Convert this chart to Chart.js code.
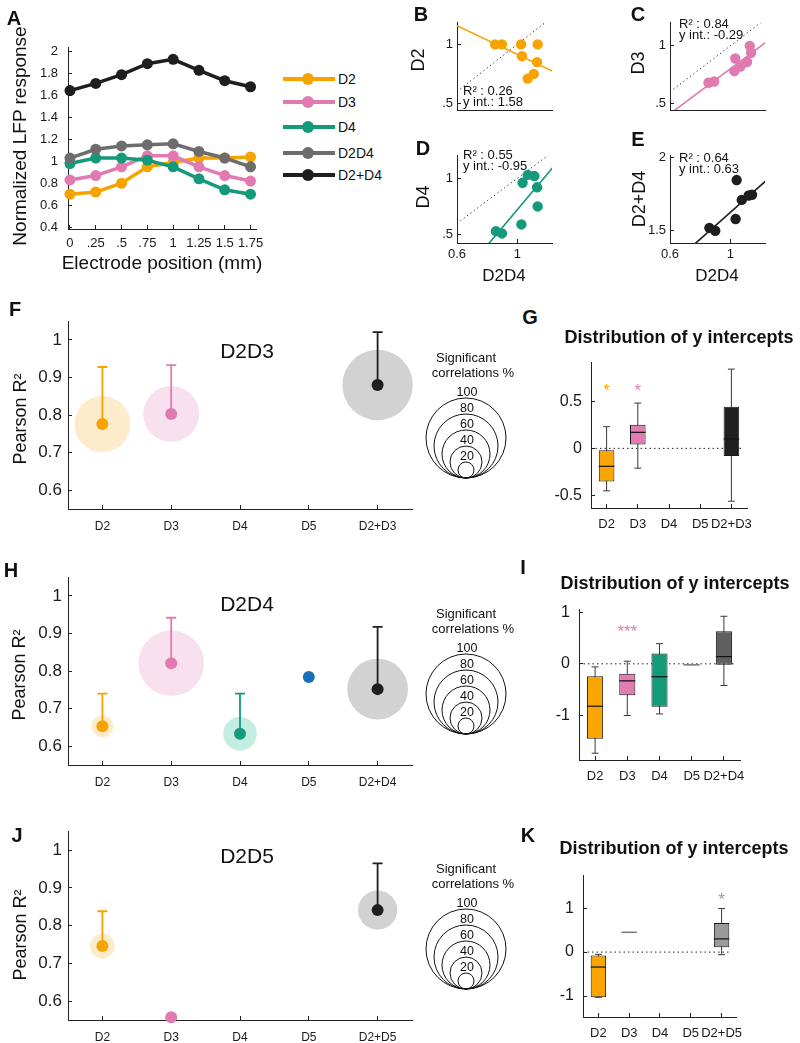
<!DOCTYPE html>
<html>
<head>
<meta charset="utf-8">
<title>LFP responses and correlations</title>
<script src="https://cdn.jsdelivr.net/npm/chart.js@4.4.1/dist/chart.umd.min.js"></script>
<style>
  body { margin: 0; background: #fff; }
  #fig { position: relative; width: 800px; height: 1043px; overflow: hidden; font-family: "Liberation Sans", Arial, sans-serif; }
  #fig canvas { position: absolute; }
  .lbl { position: absolute; white-space: nowrap; line-height: 1; color: #111; }
</style>
</head>
<body>
<div id="fig"></div>
<script>
// ---- panel A: normalized LFP response per electrode position ----
const positions = [0, 0.25, 0.5, 0.75, 1, 1.25, 1.5, 1.75];
const positionLabels = ['0', '.25', '.5', '.75', '1', '1.25', '1.5', '1.75'];
const lfpTicks = [0.4, 0.6, 0.8, 1, 1.2, 1.4, 1.6, 1.8, 2];
const lfpTickLabels = ['0.4', '0.6', '0.8', '1', '1.2', '1.4', '1.6', '1.8', '2'];
const seriesNames = ['D2', 'D3', 'D4', 'D2D4', 'D2+D4'];
const lfpD2 = [0.70, 0.72, 0.80, 0.95, 0.99, 1.03, 1.03, 1.04];
const lfpD3 = [0.83, 0.87, 0.95, 1.05, 1.05, 0.95, 0.87, 0.82];
const lfpD4 = [0.98, 1.03, 1.03, 1.01, 0.95, 0.84, 0.74, 0.70];
const lfpD2D4 = [1.03, 1.11, 1.14, 1.15, 1.16, 1.09, 1.03, 0.95];
const lfpD2plusD4 = [1.645, 1.71, 1.79, 1.89, 1.93, 1.83, 1.735, 1.68];

// ---- panels B-E: single digit vs D2D4 ----
const bX = [0.853, 0.898, 1.025, 1.135, 1.031, 1.131, 1.109, 1.069];
const bY = [1.00, 1.00, 1.00, 1.00, 0.90, 0.85, 0.75, 0.71];
const cX = [1.129, 1.138, 1.033, 1.111, 1.067, 1.027, 0.893, 0.855];
const cY = [1.00, 0.94, 0.89, 0.86, 0.82, 0.78, 0.69, 0.68];
const dX = [1.069, 1.113, 1.035, 1.131, 1.135, 1.027, 0.858, 0.898];
const dY = [1.03, 1.02, 0.96, 0.92, 0.75, 0.59, 0.53, 0.51];
const eX = [1.042, 1.076, 1.122, 1.144, 1.035, 0.861, 0.900];
const eY = [1.845, 1.71, 1.74, 1.745, 1.58, 1.52, 1.50];
const fitSlope = [-0.61, 0.975, 1.59, 0.91];
const fitOffset = [1.525, -0.174, -0.869, 0.715];
const fitR2 = ['0.26', '0.84', '0.55', '0.64'];
const fitYInt = ['1.58', '-0.29', '-0.95', '0.63'];

// ---- panels F, H, J: Pearson R2 ----
const pearsonTicks = [0.6, 0.7, 0.8, 0.9, 1];
const pearsonTickLabels = ['0.6', '0.7', '0.8', '0.9', '1'];
const catsF = ['D2', 'D3', 'D4', 'D5', 'D2+D3'];
const meanF = [0.776, 0.803, null, null, 0.880];
const topF = [0.928, 0.933, null, null, 1.021];
const sigF = [70, 70, null, null, 88];
const catsH = ['D2', 'D3', 'D4', 'D5', 'D2+D4'];
const meanH = [0.653, 0.821, 0.633, 0.784, 0.752];
const topH = [0.740, 0.942, 0.740, null, 0.918];
const sigH = [27, 82, 42, 0, 76];
const catsJ = ['D2', 'D3', 'D4', 'D5', 'D2+D5'];
const meanJ = [0.746, 0.557, null, null, 0.841];
const topJ = [0.838, null, null, null, 0.965];
const sigJ = [31, 0, null, null, 49];
const legendPct = [100, 80, 60, 40, 20];

// ---- panels G, I, K: y intercepts ----
const gLow = [-0.45, -0.21, null, null, -0.56];
const gQ1 = [-0.35, 0.04, null, null, -0.08];
const gMed = [-0.19, 0.17, null, null, 0.10];
const gQ3 = [-0.02, 0.25, null, null, 0.44];
const gHigh = [0.23, 0.48, null, null, 0.84];
const gStars = ['*', '*', null, null, null];
const gStarY = [0.65, 0.65, null, null, null];
const iLow = [-1.73, -1.00, -0.97, null, -0.42];
const iQ1 = [-1.45, -0.61, -0.83, null, -0.02];
const iMed = [-0.82, -0.33, -0.25, -0.02, 0.14];
const iQ3 = [-0.24, -0.19, 0.20, null, 0.63];
const iHigh = [-0.06, 0.05, 0.39, null, 0.92];
const iStars = [null, '***', null, null, null];
const iStarY = [null, 0.68, null, null, null];
const kLow = [-1.03, null, null, null, -0.06];
const kQ1 = [-1.03, null, null, null, 0.11];
const kMed = [-0.34, 0.45, null, null, 0.30];
const kQ3 = [-0.08, null, null, null, 0.66];
const kHigh = [-0.05, null, null, null, 0.99];
const kStars = [null, null, null, null, '*'];
const kStarY = [null, null, null, null, 1.26];

const orange = '#F6A300', pink = '#E07AB1', green = '#14997A', gray = '#6D6D6D', black = '#1E1E1E', blue = '#1A6FB6';
const seriesColors = [orange, pink, green, gray, black];
const dotColors = [orange, pink, green, blue, black];
const haloColors = ['#FDEBCB', '#F9E0EE', '#C4EDE1', '#D6E6F4', '#D2D2D2'];

const fig = document.getElementById('fig');
Chart.defaults.font.family = '"Liberation Sans", Arial, sans-serif';
Chart.defaults.color = '#1a1a1a';

function text(str, x, y, size, opts) {
  opts = opts || {};
  const d = document.createElement('div');
  d.className = 'lbl';
  d.textContent = str;
  d.style.left = x + 'px';
  d.style.top = y + 'px';
  d.style.fontSize = size + 'px';
  if (opts.bold) d.style.fontWeight = 'bold';
  if (opts.color) d.style.color = opts.color;
  d.style.transform = 'translate(' + (opts.left ? '0' : '-50%') + ',-50%)' + (opts.rot ? ' rotate(-90deg)' : '');
  fig.appendChild(d);
}

// area = [left, top, right, bottom] of the plot area on the page
function panelChart(area, yW, xH, padT, padR, config) {
  const [l, t, r, b] = area;
  const w = r - l + yW + padR, h = b - t + padT + xH;
  const c = document.createElement('canvas');
  c.width = w; c.height = h;
  c.style.left = (l - yW) + 'px';
  c.style.top = (t - padT) + 'px';
  c.style.width = w + 'px';
  c.style.height = h + 'px';
  fig.appendChild(c);
  config.options = Object.assign({
    responsive: false, animation: false, events: [],
    layout: {autoPadding: false, padding: {top: padT, right: padR, left: 0, bottom: 0}}
  }, config.options);
  config.options.plugins = Object.assign({legend: {display: false}, tooltip: {enabled: false}}, config.options.plugins);
  return new Chart(c, config);
}

function linAxis(o) {
  const show = o.show !== false;
  return {
    type: 'linear', min: o.min, max: o.max,
    afterBuildTicks: s => { s.ticks = o.ticks.map(v => ({value: v})); },
    afterFit: s => { if (o.isY) s.width = o.size; else s.height = o.size; },
    ticks: {display: show, callback: (v, i) => o.labels[i], padding: o.pad, font: {size: o.font}, autoSkip: false, maxRotation: 0},
    grid: {display: show, drawOnChartArea: false, tickLength: -4, color: '#222'},
    border: {display: true, color: '#222', width: 1}
  };
}

function catAxis(size, pad, font) {
  return {
    type: 'category', offset: true,
    afterFit: s => { s.height = size; },
    ticks: {padding: pad, font: {size: font}, autoSkip: false, maxRotation: 0},
    grid: {offset: false, drawOnChartArea: false, tickLength: -4, color: '#222'},
    border: {color: '#222', width: 1}
  };
}

// ---------- A ----------
const lfpSeries = [lfpD2, lfpD3, lfpD4, lfpD2D4, lfpD2plusD4];
panelChart([68, 38, 256, 229], 50, 30, 12, 24, {
  type: 'line',
  data: {
    datasets: lfpSeries.map((vals, k) => ({
      label: seriesNames[k],
      data: positions.map((p, i) => ({x: p, y: vals[i]})),
      borderColor: seriesColors[k], backgroundColor: seriesColors[k],
      borderWidth: 3.5, pointRadius: 5.5, pointBorderWidth: 0,
      order: 5 - k, clip: false
    }))
  },
  options: {
    scales: {
      x: linAxis({min: -0.019, max: 1.803, ticks: positions, labels: positionLabels, size: 30, pad: 11, font: 13}),
      y: linAxis({min: 0.383, max: 2.035, ticks: lfpTicks, labels: lfpTickLabels, size: 50, isY: true, pad: 14, font: 13})
    }
  }
});
text('A', 14, 18, 20, {bold: true});
text('Normalized LFP response', 19, 136, 19, {rot: true});
text('Electrode position (mm)', 162, 262, 19);
const legendRows = [79, 102, 127, 153, 175];
seriesNames.forEach((name, k) => {
  const ln = document.createElement('div');
  ln.style.cssText = 'position:absolute;left:283px;width:52px;height:3.5px;top:' + (legendRows[k] - 1.75) + 'px;background:' + seriesColors[k];
  fig.appendChild(ln);
  const dot = document.createElement('div');
  dot.style.cssText = 'position:absolute;left:302px;width:12px;height:12px;border-radius:6px;top:' + (legendRows[k] - 6) + 'px;background:' + seriesColors[k];
  fig.appendChild(dot);
  text(name, 338, legendRows[k], 14, {left: true});
});

// ---------- B-E ----------
function scatterPanel(area, xs, ys, color, k, yMin, yMax, yTicks, yTickLabels, showX) {
  const xr = [0.6, 1.25];
  panelChart(area, 30, 28, 10, 15, {
    type: 'scatter',
    data: {
      datasets: [
        {data: xs.map((x, i) => ({x: x, y: ys[i]})), pointRadius: 5.2, pointBackgroundColor: color, pointBorderWidth: 0},
        {type: 'line', data: xr.map(x => ({x: x, y: fitSlope[k] * x + fitOffset[k]})), borderColor: color, borderWidth: 1.6, pointRadius: 0},
        {type: 'line', data: xr.map(x => ({x: x, y: x})), borderColor: '#222', borderWidth: 1, borderDash: [1.2, 3], pointRadius: 0}
      ]
    },
    options: {
      scales: {
        x: linAxis({min: 0.6, max: 1.23, ticks: [0.6, 1], labels: ['0.6', '1'], size: 28, pad: 8, font: 13, show: showX}),
        y: linAxis({min: yMin, max: yMax, ticks: yTicks, labels: yTickLabels, size: 30, isY: true, pad: 8, font: 13})
      }
    }
  });
}
scatterPanel([457, 17, 552, 110], bX, bY, orange, 0, 0.444, 1.183, [0.5, 1], ['.5', '1'], false);
scatterPanel([670, 17, 765, 110], cX, cY, pink, 1, 0.443, 1.2, [0.5, 1], ['.5', '1'], false);
scatterPanel([457, 150, 552, 243], dX, dY, green, 2, 0.425, 1.2, [0.5, 1], ['.5', '1'], true);
scatterPanel([670, 150, 765, 243], eX, eY, black, 3, 1.417, 2.01, [1.5, 2], ['1.5', '2'], true);
text('B', 421, 14, 20, {bold: true});
text('C', 638, 14, 20, {bold: true});
text('D', 423, 148, 20, {bold: true});
text('E', 638, 139, 20, {bold: true});
text('D2', 418, 60, 18, {rot: true});
text('D3', 638, 63, 18, {rot: true});
text('D4', 423, 197, 18, {rot: true});
text('D2+D4', 639, 199, 18, {rot: true});
text('D2D4', 504, 275, 17);
text('D2D4', 717, 275, 17);
const fitTextPos = [[463, 90], [679, 23], [463, 154], [679, 157]];
fitTextPos.forEach((p, k) => {
  text('R\u00B2 : ' + fitR2[k], p[0], p[1], 13, {left: true});
  text('y int.: ' + fitYInt[k], p[0], p[1] + 11, 13, {left: true});
});

// ---------- F, H, J ----------
function bubblePanel(area, cats, mean, top, sig) {
  const idx = mean.map((m, i) => (m == null ? -1 : i)).filter(i => i >= 0);
  const errBars = {
    id: 'errBars',
    afterDatasetDraw(chart, args) {
      if (args.index !== 0) return;
      const {ctx, scales: {x, y}} = chart;
      ctx.save();
      ctx.lineWidth = 1.8;
      top.forEach((t, i) => {
        if (t == null) return;
        const px = x.getPixelForValue(i), y0 = y.getPixelForValue(mean[i]), y1 = y.getPixelForValue(t);
        ctx.strokeStyle = dotColors[i];
        ctx.beginPath();
        ctx.moveTo(px, y0); ctx.lineTo(px, y1);
        ctx.moveTo(px - 5, y1); ctx.lineTo(px + 5, y1);
        ctx.stroke();
      });
      ctx.restore();
    }
  };
  const sizeLegend = {
    id: 'sizeLegend',
    afterDraw(chart) {
      const {ctx, chartArea: a} = chart;
      const cx = a.right + 54, by = a.bottom - 31;
      ctx.save();
      ctx.strokeStyle = '#111';
      ctx.lineWidth = 1;
      ctx.fillStyle = '#111';
      ctx.textAlign = 'center';
      ctx.textBaseline = 'middle';
      legendPct.forEach(p => {
        const r = p * 0.4;
        ctx.beginPath();
        ctx.arc(cx, by - r, r, 0, Math.PI * 2);
        ctx.stroke();
      });
      ctx.font = '12.5px "Liberation Sans", Arial, sans-serif';
      legendPct.forEach(p => ctx.fillText(String(p), cx + 1, by - p * 0.8 - 5));
      ctx.font = '13px "Liberation Sans", Arial, sans-serif';
      ctx.fillText('Significant', cx, by - 120);
      ctx.fillText('correlations %', cx + 7, by - 105);
      ctx.restore();
    }
  };
  panelChart(area, 40, 30, 12, 110, {
    type: 'bubble',
    data: {
      labels: cats,
      datasets: [
        {data: idx.map(i => ({x: cats[i], y: mean[i], r: sig[i] * 0.4})), backgroundColor: idx.map(i => haloColors[i]), borderWidth: 0, clip: false, order: 2},
        {type: 'scatter', data: idx.map(i => ({x: cats[i], y: mean[i]})), pointRadius: 6, pointBackgroundColor: idx.map(i => dotColors[i]), pointBorderWidth: 0, clip: false, order: 1}
      ]
    },
    options: {
      scales: {
        x: catAxis(30, 14, 12),
        y: linAxis({min: 0.55, max: 1.05, ticks: pearsonTicks, labels: pearsonTickLabels, size: 40, isY: true, pad: 10, font: 17})
      }
    },
    plugins: [errBars, sizeLegend]
  });
}
bubblePanel([68, 313, 412, 509], catsF, meanF, topF, sigF);
bubblePanel([68, 569, 412, 765], catsH, meanH, topH, sigH);
bubblePanel([68, 823, 412, 1020], catsJ, meanJ, topJ, sigJ);
text('F', 15, 309, 20, {bold: true});
text('H', 11, 570, 20, {bold: true});
text('J', 17, 835, 20, {bold: true});
text('Pearson R\u00B2', 20, 419, 18, {rot: true});
text('Pearson R\u00B2', 19, 675, 18, {rot: true});
text('Pearson R\u00B2', 20, 935, 18, {rot: true});
text('D2D3', 247, 350, 21);
text('D2D4', 247, 603, 21);
text('D2D5', 247, 855, 21);

// ---------- G, I, K ----------
function boxPanel(area, cats, lo, q1, med, q3, hi, colors, stars, starY, yMin, yMax, yTicks, yTickLabels) {
  const boxParts = {
    id: 'boxParts',
    beforeDatasetsDraw(chart) {
      const {ctx, chartArea: a, scales: {x, y}} = chart;
      const hw = (a.right - a.left) / cats.length * 0.25;
      ctx.save();
      const y0 = y.getPixelForValue(0);
      ctx.strokeStyle = '#222';
      ctx.lineWidth = 1;
      ctx.setLineDash([1.5, 3]);
      ctx.beginPath();
      ctx.moveTo(a.left, y0);
      ctx.lineTo(x.getPixelForValue(cats.length - 1) + hw + 2, y0);
      ctx.stroke();
      ctx.setLineDash([]);
      ctx.strokeStyle = '#3a3a3a';
      q1.forEach((q, i) => {
        if (q == null) return;
        const px = x.getPixelForValue(i), yl = y.getPixelForValue(lo[i]), yh = y.getPixelForValue(hi[i]);
        ctx.beginPath();
        ctx.moveTo(px, yl); ctx.lineTo(px, yh);
        ctx.moveTo(px - 3.5, yl); ctx.lineTo(px + 3.5, yl);
        ctx.moveTo(px - 3.5, yh); ctx.lineTo(px + 3.5, yh);
        ctx.stroke();
      });
      ctx.restore();
    },
    afterDatasetsDraw(chart) {
      const {ctx, chartArea: a, scales: {x, y}} = chart;
      const hw = (a.right - a.left) / cats.length * 0.25;
      ctx.save();
      med.forEach((m, i) => {
        if (m == null) return;
        const px = x.getPixelForValue(i), py = y.getPixelForValue(m);
        ctx.strokeStyle = q1[i] == null ? '#777' : '#111';
        ctx.lineWidth = q1[i] == null ? 1.5 : 1.2;
        ctx.beginPath();
        ctx.moveTo(px - hw, py); ctx.lineTo(px + hw, py);
        ctx.stroke();
      });
      ctx.font = '17px "Liberation Sans", Arial, sans-serif';
      ctx.textAlign = 'center';
      ctx.textBaseline = 'middle';
      stars.forEach((s, i) => {
        if (s == null) return;
        ctx.fillStyle = colors[i];
        ctx.fillText(s, x.getPixelForValue(i), y.getPixelForValue(starY[i]) + 4);
      });
      ctx.restore();
    }
  };
  panelChart(area, 48, 30, 12, 20, {
    type: 'bar',
    data: {
      labels: cats,
      datasets: [{
        data: q1.map((q, i) => (q == null ? null : [q, q3[i]])),
        backgroundColor: colors, borderColor: '#1a1a1a', borderWidth: 1, borderSkipped: false,
        barPercentage: 0.5, categoryPercentage: 1
      }]
    },
    options: {
      scales: {
        x: catAxis(30, 13, 13),
        y: linAxis({min: yMin, max: yMax, ticks: yTicks, labels: yTickLabels, size: 48, isY: true, pad: 13, font: 16})
      }
    },
    plugins: [boxParts]
  });
}
boxPanel([591, 352, 747, 508], catsF, gLow, gQ1, gMed, gQ3, gHigh,
  ['#FBA600', '#E27CB3', '#139A78', '#888888', '#202020'], gStars, gStarY, -0.632, 0.909, [-0.5, 0, 0.5], ['-0.5', '0', '0.5']);
boxPanel([579, 599, 740, 760], catsH, iLow, iQ1, iMed, iQ3, iHigh,
  ['#FBA600', '#E27CB3', '#139A78', '#888888', '#5F5F5F'], iStars, iStarY, -1.861, 1.049, [-1, 0, 1], ['-1', '0', '1']);
boxPanel([583, 865, 737, 1017], catsJ, kLow, kQ1, kMed, kQ3, kHigh,
  ['#FBA600', '#E27CB3', '#139A78', '#888888', '#9B9B9B'], kStars, kStarY, -1.477, 1.74, [-1, 0, 1], ['-1', '0', '1']);
text('G', 530, 317, 20, {bold: true});
text('I', 523, 567, 20, {bold: true});
text('K', 528, 835, 20, {bold: true});
text('Distribution of y intercepts', 679, 337, 18, {bold: true});
text('Distribution of y intercepts', 675, 583, 18, {bold: true});
text('Distribution of y intercepts', 674, 848, 18, {bold: true});
</script>
</body>
</html>
